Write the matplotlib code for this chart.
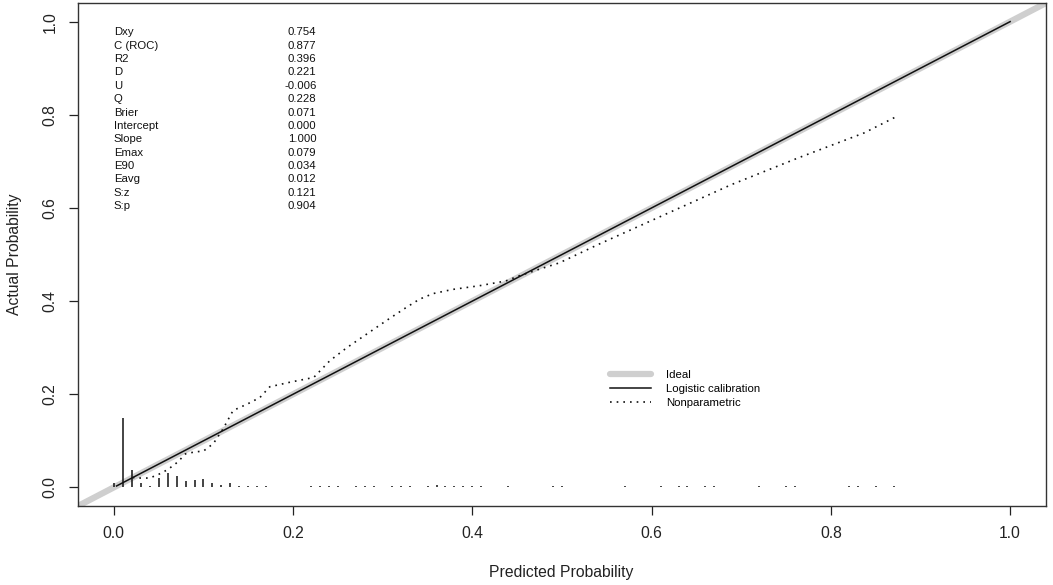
import matplotlib
matplotlib.use("Agg")
import matplotlib.pyplot as plt
from matplotlib.lines import Line2D

plt.rcParams['font.family'] = ['Liberation Sans', 'DejaVu Sans']

# ---- data ----
stat_names = ["Dxy", "C (ROC)", "R2", "D", "U", "Q", "Brier", "Intercept",
              "Slope", "Emax", "E90", "Eavg", "S:z", "S:p"]
stat_values = ["0.754", "0.877", "0.396", "0.221", "-0.006", "0.228", "0.071",
               "0.000", "1.000", "0.079", "0.034", "0.012", "0.121", "0.904"]

ideal_x = [-0.04, 1.04]
ideal_y = [-0.04, 1.04]

calib_x = [0.003, 1.0]
calib_y = [0.003, 1.0]

np_x = [0.021, 0.03, 0.04, 0.05, 0.06, 0.071, 0.08, 0.09, 0.10, 0.111, 0.122,
        0.133, 0.149, 0.163, 0.174, 0.197, 0.223, 0.241, 0.26, 0.282, 0.304,
        0.326, 0.341, 0.356, 0.378, 0.408, 0.437, 0.452, 0.474, 0.497, 0.541,
        0.615, 0.689, 0.763, 0.837, 0.873]
np_y = [0.021, 0.02, 0.02, 0.028, 0.038, 0.054, 0.072, 0.076, 0.078, 0.094,
        0.126, 0.165, 0.179, 0.193, 0.216, 0.226, 0.236, 0.272, 0.30, 0.329,
        0.358, 0.386, 0.404, 0.416, 0.425, 0.433, 0.443, 0.454, 0.468, 0.482,
        0.522, 0.586, 0.650, 0.707, 0.761, 0.796]

spike_x = [0.00, 0.01, 0.02, 0.03, 0.04, 0.05, 0.06, 0.07, 0.08, 0.09, 0.10,
           0.11, 0.12, 0.13, 0.14, 0.15, 0.16, 0.17,
           0.22, 0.23, 0.24, 0.25, 0.27, 0.28, 0.29, 0.31, 0.32, 0.33, 0.35,
           0.36, 0.37, 0.38, 0.39, 0.40, 0.41, 0.44, 0.49, 0.50, 0.57, 0.61,
           0.63, 0.64, 0.66, 0.67, 0.72, 0.75, 0.76, 0.82, 0.83, 0.85, 0.87]
spike_h = [0.009, 0.150, 0.037, 0.010, 0.004, 0.021, 0.030, 0.024, 0.014,
           0.016, 0.019, 0.010, 0.006, 0.009, 0.004, 0.004, 0.004, 0.004,
           0.004, 0.004, 0.004, 0.004, 0.004, 0.004, 0.004, 0.004, 0.004,
           0.004, 0.004, 0.006, 0.004, 0.004, 0.004, 0.004, 0.004, 0.004,
           0.004, 0.004, 0.004, 0.004, 0.004, 0.004, 0.004, 0.004, 0.004,
           0.004, 0.004, 0.004, 0.004, 0.004, 0.004]

legend_labels = ["Ideal", "Logistic calibration", "Nonparametric"]
ticks = [0.0, 0.2, 0.4, 0.6, 0.8, 1.0]
tick_labels = ["0.0", "0.2", "0.4", "0.6", "0.8", "1.0"]

# ---- figure ----
W, H = 1053, 585
fig = plt.figure(figsize=(W / 100, H / 100), dpi=100)
ax = fig.add_axes([78 / W, 1 - 506 / H, (1046 - 78) / W, (506 - 3) / H])
ax.set_xlim(-0.04, 1.04)
ax.set_ylim(-0.04, 1.04)

ideal_col = "#cfcfcf"
ax.plot(ideal_x, ideal_y, color=ideal_col, lw=4.5, solid_capstyle="butt",
        zorder=1)
ax.plot(calib_x, calib_y, color="#111111", lw=1.1, zorder=3)
ax.plot(np_x, np_y, color="#111111", lw=1.2, linestyle=(0, (1, 3)), zorder=3)
ax.vlines(spike_x, 0, spike_h, color="#111111", lw=1.1, zorder=3)

# stats block
y0 = 0.977
dy = 0.0287
for i, (n, v) in enumerate(zip(stat_names, stat_values)):
    ax.text(0.0, y0 - i * dy, n, fontsize=8.2, ha="left", va="center",
            color="#111111")
    ax.text(0.226, y0 - i * dy, v, fontsize=8.2, ha="right", va="center",
            color="#111111")

# legend
handles = [Line2D([], [], color=ideal_col, lw=4.5, solid_capstyle="round"),
           Line2D([], [], color="#111111", lw=1.1),
           Line2D([], [], color="#111111", lw=1.2, linestyle=(0, (1, 3)))]
ax.legend(handles, legend_labels, loc="upper left",
          bbox_to_anchor=(610 / W, 1 - 370 / H), bbox_transform=fig.transFigure,
          frameon=False, fontsize=8.2, handlelength=3.6, handletextpad=1.3,
          labelspacing=0.33, borderpad=0, borderaxespad=0)

ax.set_xticks(ticks)
ax.set_xticklabels(tick_labels)
ax.set_yticks(ticks)
ax.set_yticklabels(tick_labels, rotation=90, va="center")
ax.tick_params(axis="both", length=6.5, width=0.9, labelsize=11.3, pad=8,
               color="#222222", labelcolor="#222222")
for s in ax.spines.values():
    s.set_linewidth(1.0)
    s.set_color("#333333")

fig.text(561 / W, 1 - 573 / H, "Predicted Probability", fontsize=11.3,
         ha="center", va="center", color="#222222")
fig.text(15 / W, 1 - 254.5 / H, "Actual Probability", fontsize=11.3,
         ha="center", va="center", rotation=90, color="#222222")

fig.savefig("out.png", dpi=100)
